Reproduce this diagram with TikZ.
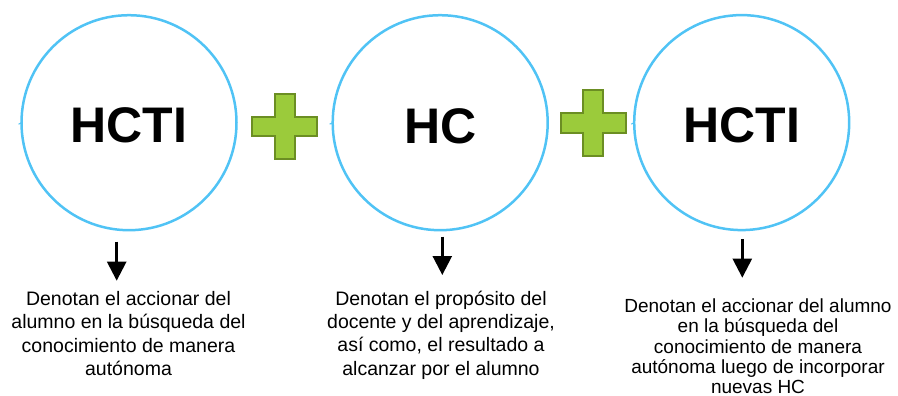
\documentclass[tikz,border=0pt]{standalone}
\usepackage{fontspec}
\setmainfont{Liberation Sans}
\usetikzlibrary{arrows.meta}
\definecolor{ringblue}{RGB}{80,195,245}
\definecolor{plusfill}{RGB}{155,203,59}
\definecolor{plusedge}{RGB}{107,142,35}
\begin{document}
\begin{tikzpicture}[x=1pt,y=-1pt,
  ring/.style={circle,draw=ringblue,line width=2.5pt,minimum size=215pt,inner sep=0pt,outer sep=0pt},
  stubline/.style={draw=ringblue,line width=1pt},
  headtxt/.style={font=\fontsize{50}{56}\selectfont\bfseries,inner sep=0pt,anchor=base},
  desc/.style={font=\fontsize{19.5}{23.3}\selectfont,align=center,inner sep=0pt,anchor=base},
  desctight/.style={font=\fontsize{19}{20.25}\selectfont,align=center,inner sep=0pt,anchor=base},
  downarrow/.style={-{Triangle[width=19pt,length=19pt]},line width=2.5pt,black},
  plusstyle/.style={fill=plusfill,draw=plusedge,line width=2pt,line join=miter},
  plussign/.pic={\path[plusstyle] (-9.8,-32.5) -- (9.8,-32.5) -- (9.8,-9.8) -- (32.5,-9.8) -- (32.5,9.8) -- (9.8,9.8) -- (9.8,32.5) -- (-9.8,32.5) -- (-9.8,9.8) -- (-32.5,9.8) -- (-32.5,-9.8) -- (-9.8,-9.8) -- cycle;}
]
\useasboundingbox (0,0) rectangle (898,396);

% circles
\node[ring] (c1) at (129,122.7) {};
\node[ring] (c2) at (440.2,122.7) {};
\node[ring] (c3) at (741.7,122.6) {};

% tiny stubs at the left of each circle
\draw[stubline] (c1.west) -- ++(-3,1.5);
\draw[stubline] (c2.west) -- ++(-3,1.5);
\draw[stubline] (c3.west) -- ++(-3,1.5);

% titles
\node[headtxt] (h1) at (128.7,142.7) {HCTI};
\node[headtxt] (h2) at (440.5,143.3) {HC};
\node[headtxt] (h3) at (742,142.7) {HCTI};

% plus signs
\pic (p1) at (284.7,126.5) {plussign};
\pic (p2) at (593,123) {plussign};

% arrows
\coordinate (a1s) at (116.7,241.7);
\coordinate (a1e) at (116.7,280.7);
\coordinate (a2s) at (442.3,236.7);
\coordinate (a2e) at (442.3,275);
\coordinate (a3s) at (742.3,239);
\coordinate (a3e) at (742.3,277.7);
\draw[downarrow] (a1s) -- (a1e);
\draw[downarrow] (a2s) -- (a2e);
\draw[downarrow] (a3s) -- (a3e);

% descriptions (anchor=base is the baseline of the last line)
\node[desc] (t1) at (128.5,375.5) {Denotan el accionar del\\alumno en la búsqueda del\\conocimiento de manera\\autónoma};
\node[desc] (t2) at (441,375.2) {Denotan el propósito del\\docente y del aprendizaje,\\así como, el resultado a\\alcanzar por el alumno};
\node[desctight] (t3) at (758,393.5) {Denotan el accionar del alumno\\en la búsqueda del\\conocimiento de manera\\autónoma luego de incorporar\\nuevas HC};
\end{tikzpicture}
\end{document}
